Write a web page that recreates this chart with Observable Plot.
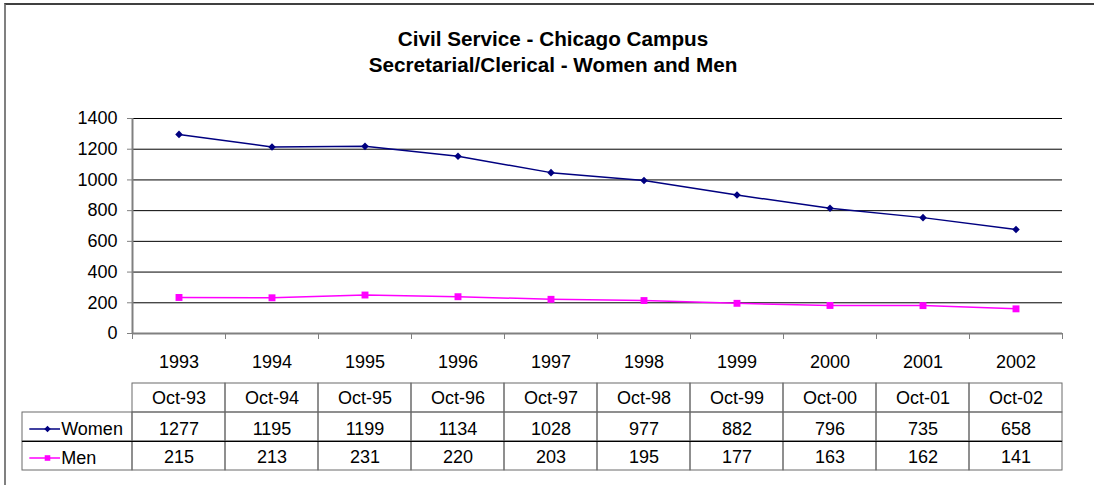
<!DOCTYPE html>
<html>
<head>
<meta charset="utf-8">
<script src="https://cdn.jsdelivr.net/npm/d3@7"></script>
<script src="https://cdn.jsdelivr.net/npm/@observablehq/plot@0.6"></script>
<style>
  html, body { margin: 0; padding: 0; background: #fff; overflow: hidden; }
  #wrap { position: relative; width: 1094px; height: 485px; overflow: hidden; background: #fff;
          font-family: "Liberation Sans", Arial, sans-serif; }
  #frame { position: absolute; left: 4px; top: 3px; width: 1300px; height: 700px;
           border-top: 2px solid #404040; border-left: 2px solid #808080; }
  #title { position: absolute; left: 0; top: 26px; width: 1106px; text-align: center;
           font-weight: bold; font-size: 20.7px; line-height: 26px; color: #000; }
  #chart, #table { position: absolute; left: 0; }
  #chart { top: 0; }
  #table { top: 370px; }
</style>
</head>
<body>
<div id="wrap">
  <div id="frame"></div>
  <div id="title">Civil Service - Chicago Campus<br>Secretarial/Clerical - Women and Men</div>
  <div id="chart"></div>
  <div id="table"></div>
</div>
<script>
// ---- data ----
const years  = ["1993","1994","1995","1996","1997","1998","1999","2000","2001","2002"];
const months = ["Oct-93","Oct-94","Oct-95","Oct-96","Oct-97","Oct-98","Oct-99","Oct-00","Oct-01","Oct-02"];
const women  = [1277, 1195, 1199, 1134, 1028, 977, 882, 796, 735, 658];
const men    = [215, 213, 231, 220, 203, 195, 177, 163, 162, 141];
const yTicks = [0, 200, 400, 600, 800, 1000, 1200, 1400];
const seriesNames  = ["Women", "Men"];
const seriesColors = ["#000080", "#ff00ff"];

// ---- layout ----
const FONT = "'Liberation Sans', Arial, sans-serif";
const W = 1094, ML = 132, MR = 32, N = years.length;
const STEP = (W - ML - MR) / N;
const idx = d3.range(N);
const data = idx.map(i => ({i, year: years[i], month: months[i], women: women[i], men: men[i]}));
const xc = d => d.i + 0.5;
const GRAY = "#808080";

const chart = Plot.plot({
  width: W, height: 375,
  marginLeft: ML, marginRight: MR, marginTop: 118, marginBottom: 42,
  style: {background: "transparent", fontFamily: FONT, fontSize: "18px", color: "black"},
  x: {domain: [0, N]},
  y: {domain: [0, 1400]},
  marks: [
    Plot.ruleY(yTicks.filter(v => v > 0), {stroke: "black", strokeWidth: 1}),
    Plot.ruleX([0], {stroke: GRAY, strokeWidth: 2}),
    Plot.ruleY([0], {stroke: GRAY, strokeWidth: 2}),
    Plot.axisY({ticks: yTicks, tickSize: 5, tickPadding: 10, tickFormat: d => String(d),
                stroke: GRAY, fill: "black", label: null}),
    Plot.axisX({ticks: d3.range(N + 1), tickSize: 6, stroke: GRAY, fill: "none", label: null}),
    Plot.axisX({ticks: idx.map(i => i + 0.5), tickSize: 0, tickPadding: 22,
                tickFormat: t => years[Math.round(t - 0.5)], fill: "black", label: null}),
    Plot.line(data, {x: xc, y: "women", stroke: seriesColors[0], strokeWidth: 1.5, dy: -3}),
    Plot.dot(data, {x: xc, y: "women", symbol: "diamond2", r: 3.4, fill: seriesColors[0], dy: -3}),
    Plot.line(data, {x: xc, y: "men", stroke: seriesColors[1], strokeWidth: 1.5, dy: -3}),
    Plot.dot(data, {x: xc, y: "men", symbol: "square", r: 3.9, fill: seriesColors[1], dy: -3})
  ]
});
document.getElementById("chart").appendChild(chart);

// ---- data table ----
const LEG = 110 / STEP;
const cells = [];
idx.forEach(i => { for (let r = 0; r < 3; r++) cells.push({x1: i, x2: i + 1, y1: r, y2: r + 1}); });
cells.push({x1: -LEG, x2: 0, y1: 1, y2: 2}, {x1: -LEG, x2: 0, y1: 2, y2: 3});
const legend = seriesNames.map((name, k) => ({name, row: k + 1, color: seriesColors[k],
  symbol: k === 0 ? "diamond2" : "square", r: k === 0 ? 3.4 : 3.9}));

const table = Plot.plot({
  width: W, height: 115,
  marginLeft: ML, marginRight: MR, marginTop: 13, marginBottom: 15,
  style: {background: "transparent", fontFamily: FONT, fontSize: "18px", color: "black"},
  x: {domain: [0, N], axis: null},
  y: {domain: [0, 3], reverse: true, axis: null},
  color: {type: "identity"},
  symbol: {type: "identity"},
  marks: [
    Plot.rect(cells, {x1: "x1", x2: "x2", y1: "y1", y2: "y2", fill: "none", stroke: "#6b6b6b"}),
    Plot.ruleY([2], {x1: -LEG, x2: N, stroke: "black"}),
    Plot.text(data, {x: xc, y: () => 0.5, text: "month", fill: "black"}),
    Plot.text(data, {x: xc, y: () => 1.5, text: d => String(d.women), fill: "black", dy: 2}),
    Plot.text(data, {x: xc, y: () => 2.5, text: d => String(d.men), fill: "black", dy: 1.5}),
    Plot.ruleY(legend, {y: d => d.row + 0.5, x1: -102.7 / STEP, x2: -72 / STEP,
                        stroke: "color", strokeWidth: 1.5, dy: 2}),
    Plot.dot(legend, {x: () => -85 / STEP, y: d => d.row + 0.5, symbol: "symbol", r: "r",
                      fill: "color", dy: 2}),
    Plot.text(legend, {x: () => 0, y: d => d.row + 0.5, text: "name", textAnchor: "start",
                       dx: -71.3, dy: 2, fill: "black"})
  ]
});
document.getElementById("table").appendChild(table);
</script>
</body>
</html>
